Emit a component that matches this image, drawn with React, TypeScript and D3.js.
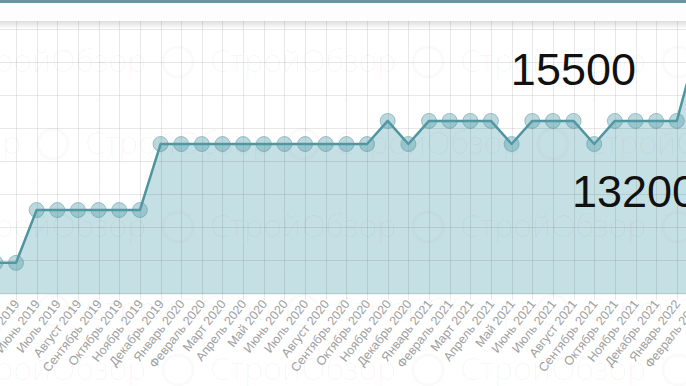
import React, {useEffect, useRef} from 'react'
import * as d3 from 'd3'

// months shown on the x axis (Апрель 2019 sits just off the left edge)
const months = [
  'Апрель 2019', 'Май 2019', 'Июнь 2019', 'Июль 2019', 'Август 2019', 'Сентябрь 2019',
  'Октябрь 2019', 'Ноябрь 2019', 'Декабрь 2019', 'Январь 2020', 'Февраль 2020', 'Март 2020',
  'Апрель 2020', 'Май 2020', 'Июнь 2020', 'Июль 2020', 'Август 2020', 'Сентябрь 2020',
  'Октябрь 2020', 'Ноябрь 2020', 'Декабрь 2020', 'Январь 2021', 'Февраль 2021', 'Март 2021',
  'Апрель 2021', 'Май 2021', 'Июнь 2021', 'Июль 2021', 'Август 2021', 'Сентябрь 2021',
  'Октябрь 2021', 'Ноябрь 2021', 'Декабрь 2021', 'Январь 2022', 'Февраль 2022'
];

const prices = [
  8900, 8900,
  10500, 10500, 10500, 10500, 10500, 10500,
  12500, 12500, 12500, 12500, 12500, 12500, 12500, 12500, 12500, 12500, 12500,
  13200, 12500,
  13200, 13200, 13200, 13200, 12500,
  13200, 13200, 13200, 12500,
  13200, 13200, 13200, 13200,
  15500
];

const gridValues = [8000, 9000, 10000, 11000, 12000, 13000, 14000, 15000, 16000];

const callouts = ['15500', '13200'];

const watermark = 'СтройОбзор';

const W = 686;
const H = 386;

const App = () => {
  const ref = useRef(null);

  useEffect(() => {
    const svg = d3.select(ref.current);
    svg.selectAll('*').remove();

    const data = months.map((m, i) => ({month: m, value: prices[i]}));

    const step = 20.65;
    const x = d3.scalePoint()
      .domain(months)
      .range([16 - step, 16 - step + step * (months.length - 1)]);

    const y = d3.scaleLinear()
      .domain([7950, 16000])
      .range([294.2, 28.5]);

    const font = '"Liberation Sans", Arial, sans-serif';

    svg.append('rect')
      .attr('width', W)
      .attr('height', H)
      .attr('fill', '#fff');

    // area
    const area = d3.area()
      .x(d => x(d.month))
      .y0(y(7950))
      .y1(d => y(d.value));

    svg.append('path')
      .datum(data)
      .attr('fill', '#c5e0e4')
      .attr('d', area);

    // grid
    const grid = svg.append('g')
      .attr('stroke', 'rgba(0,0,0,0.09)')
      .attr('stroke-width', 1);

    grid.selectAll('line.v')
      .data(months)
      .enter()
      .append('line')
      .attr('x1', d => Math.round(x(d)) + 0.5)
      .attr('x2', d => Math.round(x(d)) + 0.5)
      .attr('y1', 0)
      .attr('y2', 300);

    grid.selectAll('line.h')
      .data(gridValues)
      .enter()
      .append('line')
      .attr('x1', 0)
      .attr('x2', W)
      .attr('y1', d => Math.round(y(d)) + 0.5)
      .attr('y2', d => Math.round(y(d)) + 0.5);

    // faint watermark pattern
    const wm = svg.append('g')
      .attr('fill', 'rgba(0,0,0,0.035)')
      .attr('font-family', '"Open Sans", sans-serif')
      .attr('font-weight', 300);

    const bigRows = [[72, 0], [154, 125], [237, 0], [320, 125], [380, 0]];
    bigRows.forEach(([by, off]) => {
      for (let cx = -290 + off; cx < W + 50; cx += 250) {
        wm.append('text')
          .attr('x', cx)
          .attr('y', by)
          .attr('font-size', 32)
          .text(watermark);
        wm.append('circle')
          .attr('cx', cx + 218)
          .attr('cy', by - 10)
          .attr('r', 15)
          .attr('fill', 'none')
          .attr('stroke', 'rgba(0,0,0,0.02)')
          .attr('stroke-width', 3);
      }
    });

    const smallRows = [[107, -39, 124], [190, 22, 250], [273, 26, 250]];
    smallRows.forEach(([sy, start, period]) => {
      for (let cx = start; cx < W; cx += period) {
        wm.append('text')
          .attr('x', cx)
          .attr('y', sy)
          .attr('font-size', 14)
          .text(watermark);
      }
    });

    // line
    const line = d3.line()
      .x(d => x(d.month))
      .y(d => y(d.value));

    svg.append('path')
      .datum(data)
      .attr('fill', 'none')
      .attr('stroke', '#4e959f')
      .attr('stroke-width', 2.5)
      .attr('stroke-linejoin', 'round')
      .attr('d', line);

    svg.append('g')
      .selectAll('circle')
      .data(data)
      .enter()
      .append('circle')
      .attr('cx', d => x(d.month))
      .attr('cy', d => y(d.value))
      .attr('r', 7.5)
      .attr('fill', 'rgba(88,158,170,0.4)')
      .attr('stroke', 'rgba(80,150,162,0.5)')
      .attr('stroke-width', 1);

    // x labels
    svg.append('g')
      .selectAll('text')
      .data(months)
      .enter()
      .append('text')
      .attr('transform', d => 'translate(' + (x(d) + 4) + ',304) rotate(-52)')
      .attr('text-anchor', 'end')
      .attr('font-family', font)
      .attr('font-size', 12.5)
      .attr('fill', '#a0a0a0')
      .text(d => d);

    // callouts
    svg.append('text')
      .attr('x', 636)
      .attr('y', 85)
      .attr('text-anchor', 'end')
      .attr('font-family', font)
      .attr('font-size', 45)
      .attr('fill', '#111')
      .text(callouts[0]);

    svg.append('text')
      .attr('x', 572)
      .attr('y', 207)
      .attr('font-family', font)
      .attr('font-size', 45)
      .attr('fill', '#111')
      .text(callouts[1]);

    // page header strip with shadow
    const defs = svg.append('defs');
    const grad = defs.append('linearGradient')
      .attr('id', 'shade')
      .attr('x1', 0).attr('x2', 0).attr('y1', 0).attr('y2', 1);
    grad.append('stop').attr('offset', '0%').attr('stop-color', 'rgba(0,0,0,0.13)');
    grad.append('stop').attr('offset', '100%').attr('stop-color', 'rgba(0,0,0,0)');

    svg.append('rect')
      .attr('x', 0).attr('y', 0)
      .attr('width', W).attr('height', 21)
      .attr('fill', '#fdfdfd');
    svg.append('rect')
      .attr('x', 0).attr('y', 21)
      .attr('width', W).attr('height', 8)
      .attr('fill', 'url(#shade)');
    svg.append('rect')
      .attr('x', 0).attr('y', 0)
      .attr('width', W).attr('height', 3)
      .attr('fill', '#67969f');

    return () => svg.selectAll('*').remove()
  }, []);

  return (
    <svg ref={ref} width={W} height={H} style={{position: 'fixed', left: 0, top: 0}}>
    </svg>
  )
};

export default App
